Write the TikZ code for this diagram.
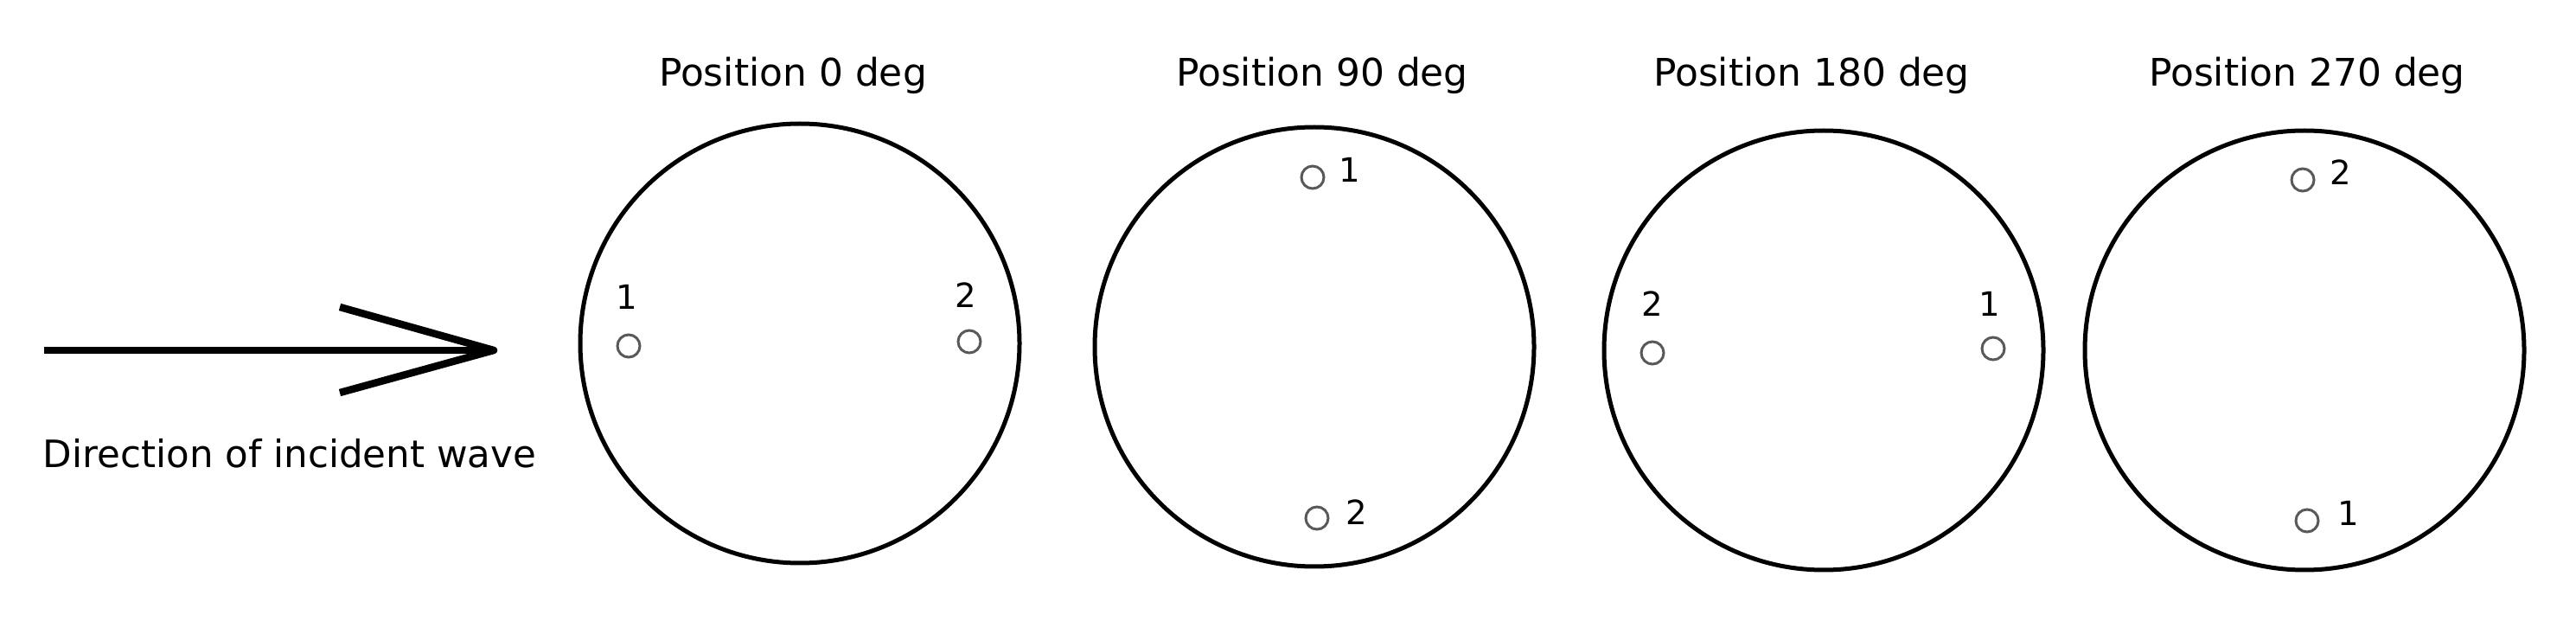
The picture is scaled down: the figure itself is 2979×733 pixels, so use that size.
\documentclass[tikz,border=0pt]{standalone}
\usepackage{fontspec}
\setmainfont{DejaVu Sans}
\usetikzlibrary{positioning}

\begin{document}
\begin{tikzpicture}[x=0.1mm, y=-0.1mm,
    pipe/.style={circle, draw, line width=0.5mm, minimum size=50.8mm, inner sep=0pt},
    probe/.style={circle, draw=black!65, line width=0.3mm, minimum size=2.6mm, inner sep=0pt},
    num/.style={font=\fontsize{11}{13}\selectfont, inner sep=0pt},
    heading/.style={font=\fontsize{12.5}{15}\selectfont, anchor=base, inner sep=0pt},
    wave/.style={line width=0.85mm}]
    \useasboundingbox (0,0) rectangle (2979,733);

    % incident wave
    \coordinate (tail) at (51,405);
    \coordinate (tip) at (571,405);
    \coordinate (barbup) at (393,355);
    \coordinate (barbdown) at (393,454);
    \draw[wave] (tail) -- (tip);
    \draw[wave, line join=round] (barbup) -- (tip) -- (barbdown);
    \node[heading, font=\fontsize{12.4}{15}\selectfont] (dir) at (335,540) {Direction of incident wave};

    % position 0 deg
    \node[heading] (t0) at (917,100) {Position 0 deg};
    \node[pipe] (c0) at (925,397) {};
    \node[probe] (p0a) at (727,400) {};
    \node[num] (n0a) at (725,343) {1};
    \node[probe] (p0b) at (1121,395) {};
    \node[num] (n0b) at (1117,341) {2};

    % position 90 deg
    \node[heading] (t90) at (1529,100) {Position 90 deg};
    \node[pipe] (c90) at (1520,401) {};
    \node[probe] (p90a) at (1518,205) {};
    \node[num] (n90a) at (1561,196) {1};
    \node[probe] (p90b) at (1523,599) {};
    \node[num] (n90b) at (1569,592) {2};

    % position 180 deg
    \node[heading] (t180) at (2095,100) {Position 180 deg};
    \node[pipe] (c180) at (2109,405) {};
    \node[probe] (p180a) at (2305,403) {};
    \node[num] (n180a) at (2301,351) {1};
    \node[probe] (p180b) at (1911,408) {};
    \node[num] (n180b) at (1911,351) {2};

    % position 270 deg
    \node[heading] (t270) at (2668,100) {Position 270 deg};
    \node[pipe] (c270) at (2665,405) {};
    \node[probe] (p270a) at (2668,602) {};
    \node[num] (n270a) at (2716,593) {1};
    \node[probe] (p270b) at (2663,208) {};
    \node[num] (n270b) at (2707,199) {2};
\end{tikzpicture}
\end{document}
